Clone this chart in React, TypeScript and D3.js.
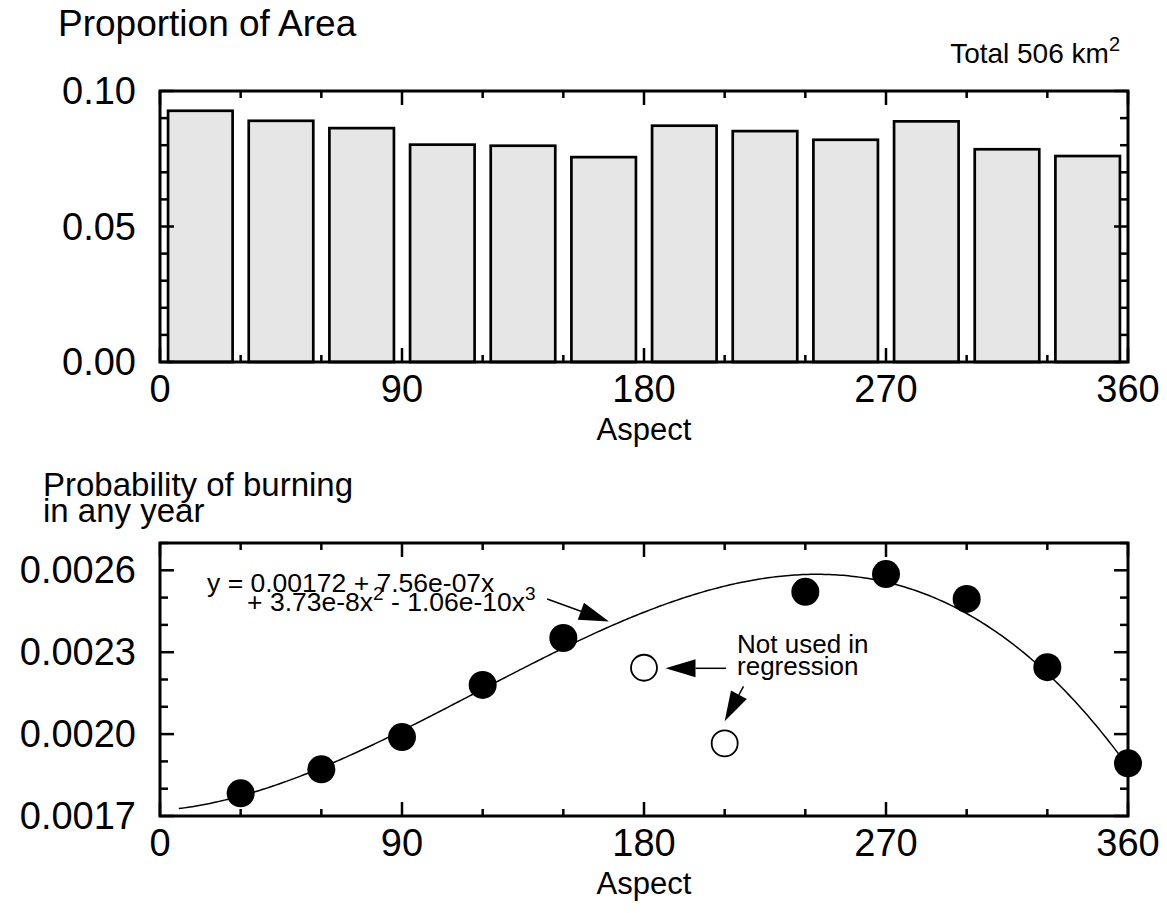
import React, { useRef, useEffect } from "react";
import * as d3 from "d3";

// top panel: proportion of area in each 30 degree aspect class
const binStarts = [0, 30, 60, 90, 120, 150, 180, 210, 240, 270, 300, 330];
const areaProp = [0.0927, 0.089, 0.0863, 0.0802, 0.0798, 0.0756, 0.0872, 0.0852, 0.082, 0.0888, 0.0785, 0.076];

// bottom panel: probability of burning
const usedAspect = [30, 60, 90, 120, 150, 240, 270, 300, 330, 360];
const usedProb = [0.001783, 0.001871, 0.001989, 0.00218, 0.002352, 0.002521, 0.002586, 0.002495, 0.002245, 0.001893];
const skipAspect = [180, 210];
const skipProb = [0.002243, 0.001966];

// regression printed on the chart
const coef = [0.00172, 7.56e-7, 3.73e-8, -1.06e-10];

const xMajor = [0, 90, 180, 270, 360];
const xMinor = [30, 60, 120, 150, 210, 240, 300, 330];
const topYMajor = [0, 0.05, 0.1];
const topYMinor = [0.01, 0.02, 0.03, 0.04, 0.06, 0.07, 0.08, 0.09];
const botYMajor = [0.0017, 0.002, 0.0023, 0.0026];
const botYMinor = [0.0018, 0.0019, 0.0021, 0.0022, 0.0024, 0.0025, 0.0027];

const W = 1167;
const H = 913;
const font = "'Liberation Sans', Arial, Helvetica, sans-serif";

const App = () => {
  const svgRef = useRef<SVGSVGElement>(null);

  useEffect(() => {
    const svg = d3.select(svgRef.current);
    svg.selectAll("*").remove();

    const left = 160;
    const right = 1128;

    const x = d3.scaleLinear().domain([0, 360]).range([left, right]);

    // inward ticks on all four sides
    const frameTicks = (g, y, yMajor, yMinor, top, bottom, fmt) => {
      const lines = (vals, len, side) => {
        g.append("g")
          .selectAll("line")
          .data(vals)
          .join("line")
          .attr("x1", (d) => (side === "b" || side === "t" ? x(d) : side === "l" ? left : right))
          .attr("x2", (d) => (side === "b" || side === "t" ? x(d) : side === "l" ? left + len : right - len))
          .attr("y1", (d) => (side === "b" ? bottom : side === "t" ? top : y(d)))
          .attr("y2", (d) => (side === "b" ? bottom - len : side === "t" ? top + len : y(d)))
          .attr("stroke", "#000")
          .attr("stroke-width", 2.5);
      };
      lines(xMajor, 14, "b");
      lines(xMinor, 7, "b");
      lines(xMajor, 14, "t");
      lines(xMinor, 7, "t");
      lines(yMajor, 14, "l");
      lines(yMinor, 8, "l");
      lines(yMajor, 14, "r");
      lines(yMinor, 8, "r");

      g.append("rect")
        .attr("x", left)
        .attr("y", top)
        .attr("width", right - left)
        .attr("height", bottom - top)
        .attr("fill", "none")
        .attr("stroke", "#000")
        .attr("stroke-width", 3);

      g.append("g")
        .selectAll("text")
        .data(xMajor)
        .join("text")
        .attr("x", (d) => x(d))
        .attr("y", bottom + 40)
        .attr("text-anchor", "middle")
        .attr("font-size", 38)
        .text((d) => d);

      g.append("g")
        .selectAll("text")
        .data(yMajor)
        .join("text")
        .attr("x", left - 24)
        .attr("y", (d) => y(d) + 13)
        .attr("text-anchor", "end")
        .attr("font-size", 38)
        .text(fmt);

      g.append("text")
        .attr("x", x(180))
        .attr("y", bottom + 78)
        .attr("text-anchor", "middle")
        .attr("font-size", 31)
        .text("Aspect");
    };

    // ---------- top panel ----------
    const t = svg.append("g").attr("font-family", font).attr("fill", "#000");
    const yTop = d3.scaleLinear().domain([0, 0.1]).range([362, 91]);

    t.append("g")
      .selectAll("rect")
      .data(binStarts)
      .join("rect")
      .attr("x", (d) => x(d + 3))
      .attr("y", (d, i) => yTop(areaProp[i]))
      .attr("width", x(27) - x(3))
      .attr("height", (d, i) => yTop(0) - yTop(areaProp[i]))
      .attr("fill", "#e6e6e6")
      .attr("stroke", "#000")
      .attr("stroke-width", 2.7);

    frameTicks(t, yTop, topYMajor, topYMinor, 91, 362, d3.format(".2f"));

    t.append("text").attr("x", 58).attr("y", 36).attr("font-size", 37).text("Proportion of Area");

    const tot = t.append("text").attr("x", 1120).attr("y", 63).attr("text-anchor", "end").attr("font-size", 28);
    tot.append("tspan").text("Total 506 km");
    tot.append("tspan").attr("font-size", 20).attr("dy", -12).text("2");

    // ---------- bottom panel ----------
    const b = svg.append("g").attr("font-family", font).attr("fill", "#000");
    const yBot = d3.scaleLinear().domain([0.0017, 0.0027]).range([816, 543]);

    const poly = (a) => coef[0] + coef[1] * a + coef[2] * a * a + coef[3] * a * a * a;
    const curveX = d3.range(7, 360.01, 1);
    const line = d3
      .line<number>()
      .x((d) => x(d))
      .y((d) => yBot(poly(d)));
    b.append("path")
      .datum(curveX)
      .attr("d", line)
      .attr("fill", "none")
      .attr("stroke", "#000")
      .attr("stroke-width", 1.5);

    b.append("g")
      .selectAll("circle")
      .data(usedAspect)
      .join("circle")
      .attr("cx", (d) => x(d))
      .attr("cy", (d, i) => yBot(usedProb[i]))
      .attr("r", 14)
      .attr("fill", "#000");

    b.append("g")
      .selectAll("circle")
      .data(skipAspect)
      .join("circle")
      .attr("cx", (d) => x(d))
      .attr("cy", (d, i) => yBot(skipProb[i]))
      .attr("r", 13)
      .attr("fill", "#fff")
      .attr("stroke", "#000")
      .attr("stroke-width", 1.8);

    frameTicks(b, yBot, botYMajor, botYMinor, 543, 816, d3.format(".4f"));

    b.append("text").attr("x", 43).attr("y", 496).attr("font-size", 33).text("Probability of burning");
    b.append("text").attr("x", 43).attr("y", 522).attr("font-size", 33).text("in any year");

    // equation
    b.append("text")
      .attr("x", x(17.5))
      .attr("y", yBot(0.002521))
      .attr("font-size", 26.5)
      .text("y = 0.00172 + 7.56e-07x");
    const eq2 = b.append("text").attr("x", x(32.4)).attr("y", yBot(0.002451)).attr("font-size", 26.5);
    eq2.append("tspan").text("+ 3.73e-8x");
    eq2.append("tspan").attr("font-size", 19).attr("dy", -11).text("2");
    eq2.append("tspan").attr("dy", 11).text(" - 1.06e-10x");
    eq2.append("tspan").attr("font-size", 19).attr("dy", -11).text("3");

    b.append("text").attr("x", x(214.6)).attr("y", yBot(0.002297)).attr("font-size", 26).text("Not used in");
    b.append("text").attr("x", x(214.6)).attr("y", yBot(0.002216)).attr("font-size", 26).text("regression");

    // arrows: [fromAspect, fromProb, toAspect, toProb]
    const arrows = [
      [144, 0.002495, 167, 0.002412],
      [210.5, 0.002241, 188, 0.002241],
      [217, 0.002175, 210, 0.002047],
    ];
    arrows.forEach(([a0, p0, a1, p1]) => {
      const x0 = x(a0), y0 = yBot(p0), x1 = x(a1), y1 = yBot(p1);
      const ang = Math.atan2(y1 - y0, x1 - x0);
      const len = 30, hw = 9;
      const bx = x1 - len * Math.cos(ang), by = y1 - len * Math.sin(ang);
      b.append("line")
        .attr("x1", x0).attr("y1", y0).attr("x2", bx).attr("y2", by)
        .attr("stroke", "#000").attr("stroke-width", 1.5);
      const pts = [
        [x1, y1],
        [bx + hw * Math.sin(ang), by - hw * Math.cos(ang)],
        [bx - hw * Math.sin(ang), by + hw * Math.cos(ang)],
      ];
      b.append("polygon").attr("points", pts.map((p) => p.join(",")).join(" ")).attr("fill", "#000");
    });
  }, []);

  return (
    <svg
      ref={svgRef}
      width={W}
      height={H}
      style={{ position: "absolute", left: 0, top: 0, background: "#fff" }}
    ></svg>
  );
};

export default App;
